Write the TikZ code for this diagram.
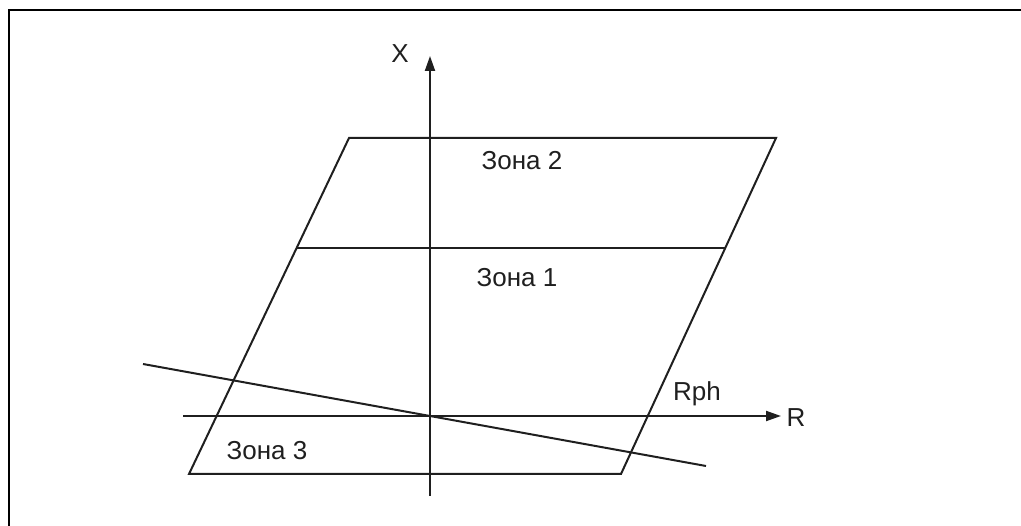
\documentclass[tikz,border=0pt]{standalone}
\usepackage{fontspec}
\setmainfont{Liberation Sans}
\usetikzlibrary{arrows.meta,calc}

\tikzset{
  zonelbl/.style={anchor=base, inner sep=0pt, font=\fontsize{26}{30}\selectfont},
  axisarrow/.style={-{Triangle[length=15pt,width=10pt]}},
}

\begin{document}
\begin{tikzpicture}[x=1pt,y=-1pt, line width=2pt, color=black!88]
  \useasboundingbox (0,0) rectangle (1021,526);
  \draw[line width=2.6pt, black] (9,526) -- (9,10) -- (1021,10);

  % axes
  \coordinate (O) at (430,416);
  \coordinate (Xbot) at (430,496);
  \coordinate (Xtip) at (430,56);
  \coordinate (Rleft) at (183,416);
  \coordinate (Rtip) at (781,416);
  \draw[axisarrow] (Xbot) -- (Xtip);
  \draw[axisarrow] (Rleft) -- (Rtip);
  \node[zonelbl] (labX) at (400,63) {X};
  \node[zonelbl] (labR) at (796,427) {R};

  % zone boundary
  \coordinate (BL) at (189,474);
  \coordinate (BR) at (621,474);
  \coordinate (TR) at (776,138);
  \coordinate (TL) at (349,138);
  \draw (BL) -- (BR) -- (TR) -- (TL) -- cycle;
  \draw ($(BL)!0.673!(TL)$) -- ($(BR)!0.673!(TR)$);

  % line through the origin
  \coordinate (Sl) at (143,364);
  \coordinate (Sr) at (706,466);
  \draw (Sl) -- (Sr);

  \node[zonelbl] (z2) at (522,170) {Зона 2};
  \node[zonelbl] (z1) at (517,287) {Зона 1};
  \node[zonelbl] (z3) at (267,460) {Зона 3};
  \node[zonelbl] (rph) at (697,401) {Rph};
\end{tikzpicture}
\end{document}
